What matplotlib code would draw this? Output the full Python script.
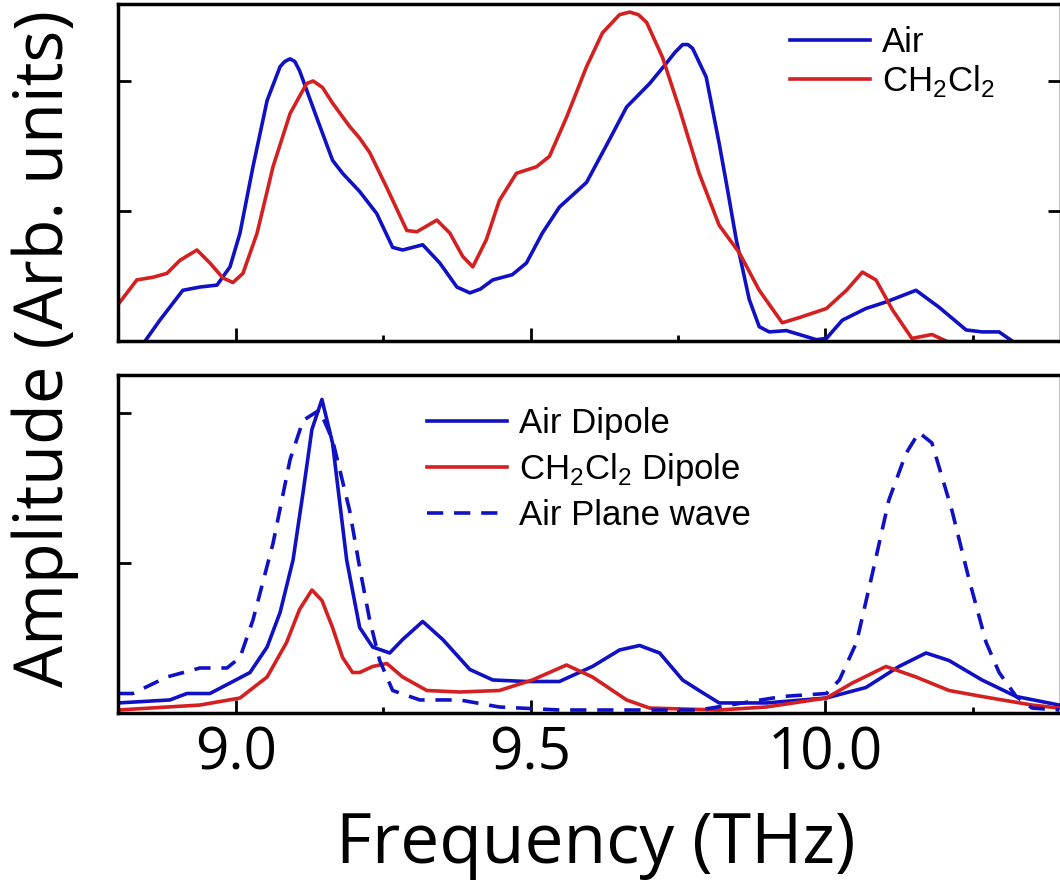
import matplotlib
matplotlib.use("Agg")
import matplotlib.pyplot as plt
from matplotlib.ticker import MultipleLocator, NullFormatter

# top panel: measured spectra
top_air_freq = [8.846, 8.871, 8.910, 8.939, 8.968, 8.990, 9.007, 9.029, 9.053, 9.075,
                9.083, 9.092, 9.100, 9.108, 9.137, 9.164, 9.181, 9.210, 9.239, 9.266,
                9.283, 9.317, 9.346, 9.375, 9.397, 9.415, 9.436, 9.469, 9.493, 9.520,
                9.549, 9.595, 9.634, 9.663, 9.702, 9.731, 9.745, 9.758, 9.767, 9.775,
                9.798, 9.820, 9.832, 9.849, 9.871, 9.888, 9.905, 9.934, 9.956, 9.985,
                10.002, 10.029, 10.069, 10.103, 10.154, 10.193, 10.239, 10.266, 10.295, 10.317]
top_air = [0.0, 0.16, 0.39, 0.415, 0.43, 0.57, 0.83, 1.34, 1.85, 2.11,
           2.15, 2.17, 2.15, 2.08, 1.72, 1.39, 1.29, 1.15, 0.98, 0.72,
           0.70, 0.74, 0.60, 0.415, 0.37, 0.40, 0.47, 0.51, 0.60, 0.83,
           1.03, 1.22, 1.55, 1.80, 1.98, 2.14, 2.22, 2.28, 2.28, 2.25,
           2.03, 1.52, 1.22, 0.78, 0.32, 0.11, 0.07, 0.08, 0.05, 0.01,
           0.02, 0.16, 0.25, 0.30, 0.39, 0.26, 0.085, 0.07, 0.07, 0.0]

top_ch2cl2_freq = [8.800, 8.832, 8.859, 8.883, 8.905, 8.934, 8.956, 8.978, 8.995, 9.012,
                   9.036, 9.063, 9.092, 9.120, 9.131, 9.147, 9.164, 9.193, 9.210, 9.227,
                   9.256, 9.290, 9.307, 9.341, 9.363, 9.385, 9.402, 9.425, 9.447, 9.476,
                   9.510, 9.532, 9.561, 9.595, 9.622, 9.651, 9.668, 9.683, 9.697, 9.724,
                   9.753, 9.786, 9.820, 9.854, 9.888, 9.927, 9.956, 10.002, 10.036, 10.063,
                   10.086, 10.114, 10.147, 10.181, 10.205]
top_ch2cl2 = [0.28, 0.47, 0.49, 0.52, 0.62, 0.70, 0.60, 0.485, 0.45, 0.52,
              0.83, 1.34, 1.75, 1.98, 2.00, 1.95, 1.83, 1.65, 1.56, 1.45,
              1.18, 0.85, 0.84, 0.93, 0.83, 0.65, 0.57, 0.78, 1.08, 1.29,
              1.34, 1.42, 1.72, 2.11, 2.37, 2.51, 2.53, 2.51, 2.45, 2.18,
              1.78, 1.29, 0.89, 0.68, 0.39, 0.14, 0.18, 0.25, 0.39, 0.53,
              0.47, 0.24, 0.02, 0.05, 0.0]

# bottom panel: simulations
dip_air_freq = [8.800, 8.888, 8.917, 8.956, 8.995, 9.024, 9.053, 9.075, 9.097, 9.114,
                9.129, 9.146, 9.164, 9.188, 9.210, 9.232, 9.261, 9.283, 9.317, 9.351,
                9.397, 9.436, 9.493, 9.549, 9.605, 9.651, 9.685, 9.719, 9.758, 9.786,
                9.820, 9.900, 10.002, 10.069, 10.125, 10.171, 10.210, 10.266, 10.324, 10.397]
dip_air = [0.067, 0.087, 0.13, 0.13, 0.21, 0.27, 0.44, 0.67, 1.02, 1.47,
           1.89, 2.09, 1.80, 1.02, 0.57, 0.44, 0.40, 0.49, 0.61, 0.49,
           0.29, 0.22, 0.21, 0.21, 0.31, 0.42, 0.45, 0.40, 0.22, 0.15,
           0.067, 0.067, 0.10, 0.17, 0.31, 0.40, 0.35, 0.22, 0.11, 0.053]

dip_ch2cl2_freq = [8.800, 8.939, 9.007, 9.053, 9.086, 9.108, 9.129, 9.146, 9.164, 9.181,
                   9.198, 9.210, 9.232, 9.256, 9.283, 9.324, 9.380, 9.447, 9.503, 9.561,
                   9.605, 9.663, 9.702, 9.820, 9.900, 10.002, 10.046, 10.103, 10.154, 10.210,
                   10.266, 10.351, 10.397]
dip_ch2cl2 = [0.02, 0.053, 0.10, 0.24, 0.47, 0.69, 0.82, 0.75, 0.57, 0.37,
              0.27, 0.27, 0.31, 0.33, 0.24, 0.15, 0.14, 0.15, 0.22, 0.32,
              0.24, 0.087, 0.033, 0.02, 0.04, 0.10, 0.20, 0.31, 0.24, 0.15,
              0.11, 0.053, 0.033]

pw_air_freq = [8.800, 8.825, 8.883, 8.939, 8.985, 9.007, 9.029, 9.063, 9.092, 9.114,
               9.142, 9.164, 9.193, 9.210, 9.227, 9.244, 9.266, 9.312, 9.380, 9.447,
               9.549, 9.702, 9.786, 9.927, 10.002, 10.024, 10.053, 10.080, 10.108, 10.137,
               10.159, 10.181, 10.215, 10.244, 10.273, 10.295, 10.324, 10.351, 10.397]
pw_air = [0.13, 0.13, 0.24, 0.30, 0.30, 0.37, 0.62, 1.13, 1.69, 1.95,
          2.02, 1.82, 1.35, 0.97, 0.62, 0.35, 0.15, 0.087, 0.087, 0.04,
          0.02, 0.02, 0.02, 0.11, 0.13, 0.22, 0.47, 0.93, 1.42, 1.73,
          1.87, 1.80, 1.35, 0.89, 0.47, 0.27, 0.11, 0.033, 0.02]

legend_top = ["Air", r"CH$_\mathregular{2}$Cl$_\mathregular{2}$"]
legend_bottom = ["Air Dipole", r"CH$_\mathregular{2}$Cl$_\mathregular{2}$ Dipole", "Air Plane wave"]
xticks = [9.0, 9.5, 10.0]
xtick_labels = ["9.0", "9.5", "10.0"]

BLUE = "#1010C4"
RED = "#D42020"
W, H = 1060, 892

plt.rcParams["axes.linewidth"] = 2.5
plt.rcParams["lines.solid_joinstyle"] = "round"
plt.rcParams["lines.dash_capstyle"] = "butt"

fig = plt.figure(figsize=(W / 100, H / 100), dpi=100)
left = 118 / W
width = (1061 - 118) / W
ax1 = fig.add_axes([left, 1 - 341 / H, width, (341 - 4) / H])
ax2 = fig.add_axes([left, 1 - 713 / H, width, (713 - 375) / H])

lw = 2.6
ax1.plot(top_air_freq, top_air, color=BLUE, lw=lw, label=legend_top[0])
ax1.plot(top_ch2cl2_freq, top_ch2cl2, color=RED, lw=lw, label=legend_top[1])

ax2.plot(dip_air_freq, dip_air, color=BLUE, lw=lw, label=legend_bottom[0])
ax2.plot(dip_ch2cl2_freq, dip_ch2cl2, color=RED, lw=lw, label=legend_bottom[1])
ax2.plot(pw_air_freq, pw_air, color=BLUE, lw=lw, ls=(0, (4.5, 3)), label=legend_bottom[2])

ax1.set_ylim(0, 2.592)
ax2.set_ylim(0, 2.253)

for ax in (ax1, ax2):
    ax.set_xlim(8.8, 10.4)
    ax.set_xticks(xticks)
    ax.xaxis.set_minor_locator(MultipleLocator(0.25))
    ax.set_yticks([1, 2])
    ax.yaxis.set_major_formatter(NullFormatter())
    ax.tick_params(which="major", direction="in", length=9.5, width=2.0)
    ax.tick_params(which="minor", direction="in", length=4.5, width=2.0)
    ax.tick_params(axis="y", which="minor", left=False, right=False)

ax1.tick_params(axis="y", right=True)
ax1.xaxis.set_major_formatter(NullFormatter())
ax2.set_xticklabels(xtick_labels, family="Open Sans", fontsize=42)
ax2.tick_params(axis="x", which="major", pad=9)

leg_font = {"family": "Liberation Sans", "size": 25}
ax1.legend(loc="upper left", bbox_to_anchor=(790 / W, 1 - 26 / H), bbox_transform=fig.transFigure,
           frameon=False, prop=leg_font, borderpad=0, handlelength=2.3, handletextpad=0.35,
           labelspacing=0.12, borderaxespad=0)
ax2.legend(loc="upper left", bbox_to_anchor=(427 / W, 1 - 407 / H), bbox_transform=fig.transFigure,
           frameon=False, prop=leg_font, borderpad=0, handlelength=2.3, handletextpad=0.35,
           labelspacing=0.32, borderaxespad=0)

fig.text(45 / W, 1 - 349 / H, "Amplitude (Arb. units)", rotation=90, ha="center", va="center",
         family="Open Sans", fontsize=48)
fig.text(596 / W, 1 - 845 / H, "Frequency (THz)", ha="center", va="center",
         family="Open Sans", fontsize=50)

fig.savefig("out.png", dpi=100)
